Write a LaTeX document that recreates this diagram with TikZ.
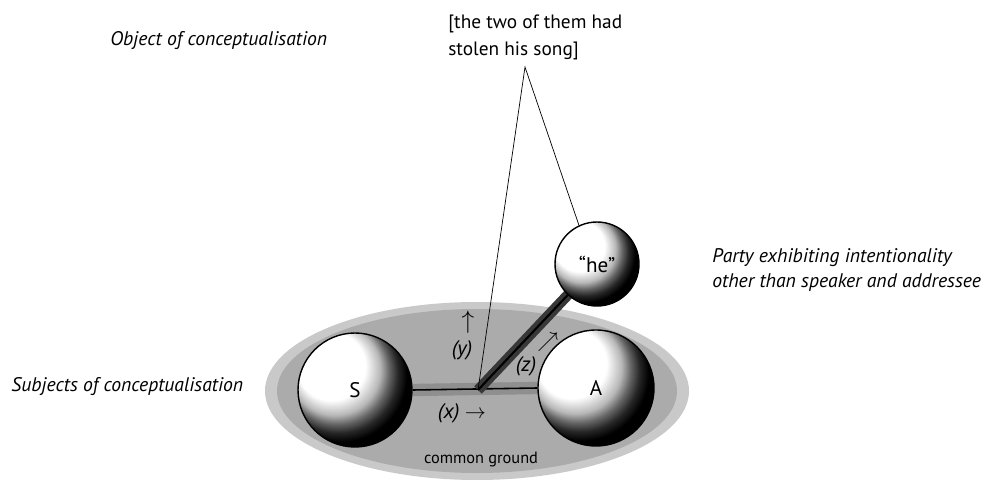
\documentclass[tikz,border=0pt]{standalone}
\usepackage{fontspec}
\setmainfont{PT Sans}
\usetikzlibrary{positioning}

% white ball, dark towards the lower right
\pgfdeclareradialshading{sphereshade}{\pgfpoint{-15bp}{15bp}}{%
  color(0bp)=(white); color(15bp)=(white); color(20bp)=(black!28);
  color(23bp)=(black!60); color(26bp)=(black!85); color(29bp)=(black); color(50bp)=(black)}

\definecolor{groundout}{gray}{0.79}
\definecolor{groundin}{gray}{0.67}
\definecolor{linkband}{gray}{0.56}
\definecolor{stickgray}{gray}{0.22}

\pgfdeclarelayer{background}
\pgfsetlayers{background,main}

\tikzset{
  bubble/.style={circle, draw=black, thick, shading=sphereshade, inner sep=0pt, font=\fontsize{12}{14}\selectfont},
  captiontext/.style={font=\fontsize{11.2}{14.2}\selectfont\itshape, anchor=base west, inner sep=0pt},
  pathtext/.style={font=\fontsize{12}{14}\selectfont\itshape, inner sep=0pt}
}

\begin{document}
\begin{tikzpicture}
    \useasboundingbox (0,0) rectangle (19.72,9.58);

    % --- SUBJECTS AND THIRD PARTY ---
    \node[bubble, minimum size=2.28cm] (S) at (7.10,1.78) {S};
    \node[bubble, minimum size=2.32cm] (A) at (11.92,1.82) {A};
    \node[bubble, minimum size=1.68cm] (he) at (11.94,4.30) {``he''};
    \coordinate (mid) at (9.56,1.78);
    \coordinate (apex) at (10.50,8.24);

    % --- COMMON GROUND, links behind the balls ---
    \begin{pgfonlayer}{background}
        \fill[groundout] (9.54,1.76) ellipse [x radius=4.24, y radius=1.78];
        \fill[groundin] (9.54,1.76) ellipse [x radius=4.0, y radius=1.64];
        \draw[linkband, line width=7pt] (S.east) -- (A.west);
        \draw[black, line width=0.9pt] (S.east) -- (A.west);
        \draw[stickgray, line width=6pt] (mid) -- (he.center);
        \draw[black, line width=1.2pt] (mid) -- (he.center);
    \end{pgfonlayer}
    \node[font=\fontsize{9.3}{11}\selectfont, anchor=base, inner sep=0pt] (ground) at (9.62,0.32) {common ground};

    % --- OBJECT OF CONCEPTUALISATION ---
    \draw[black, thin] (mid) -- (apex) -- (he.115);
    \node[font=\fontsize{11}{14.8}\selectfont, align=left, anchor=north west, inner sep=0pt] (object) at (8.96,9.28) {[the two of them had\\stolen his song]};

    % --- PATH LABELS ---
    \node[pathtext] (xlab) at (9.24,1.32) {(x) $\rightarrow$};
    \node[pathtext] (ylab) at (9.24,2.58) {(y)};
    \node[pathtext, font=\fontsize{14}{16}\selectfont] (yarr) at (9.36,3.14) {$\uparrow$};
    \node[pathtext] (zlab) at (10.52,2.26) {(z)};
    \node[pathtext, font=\fontsize{13}{15}\selectfont] (zarr) at (10.96,2.74) {$\nearrow$};

    % --- CAPTIONS ---
    \node[captiontext] (objcap) at (2.20,8.66) {Object of conceptualisation};
    \node[captiontext] (subjcap) at (0.22,1.76) {Subjects of conceptualisation};
    \node[captiontext, align=left, anchor=north west] (partycap) at (14.24,4.62) {Party exhibiting intentionality\\other than speaker and addressee};
\end{tikzpicture}
\end{document}
